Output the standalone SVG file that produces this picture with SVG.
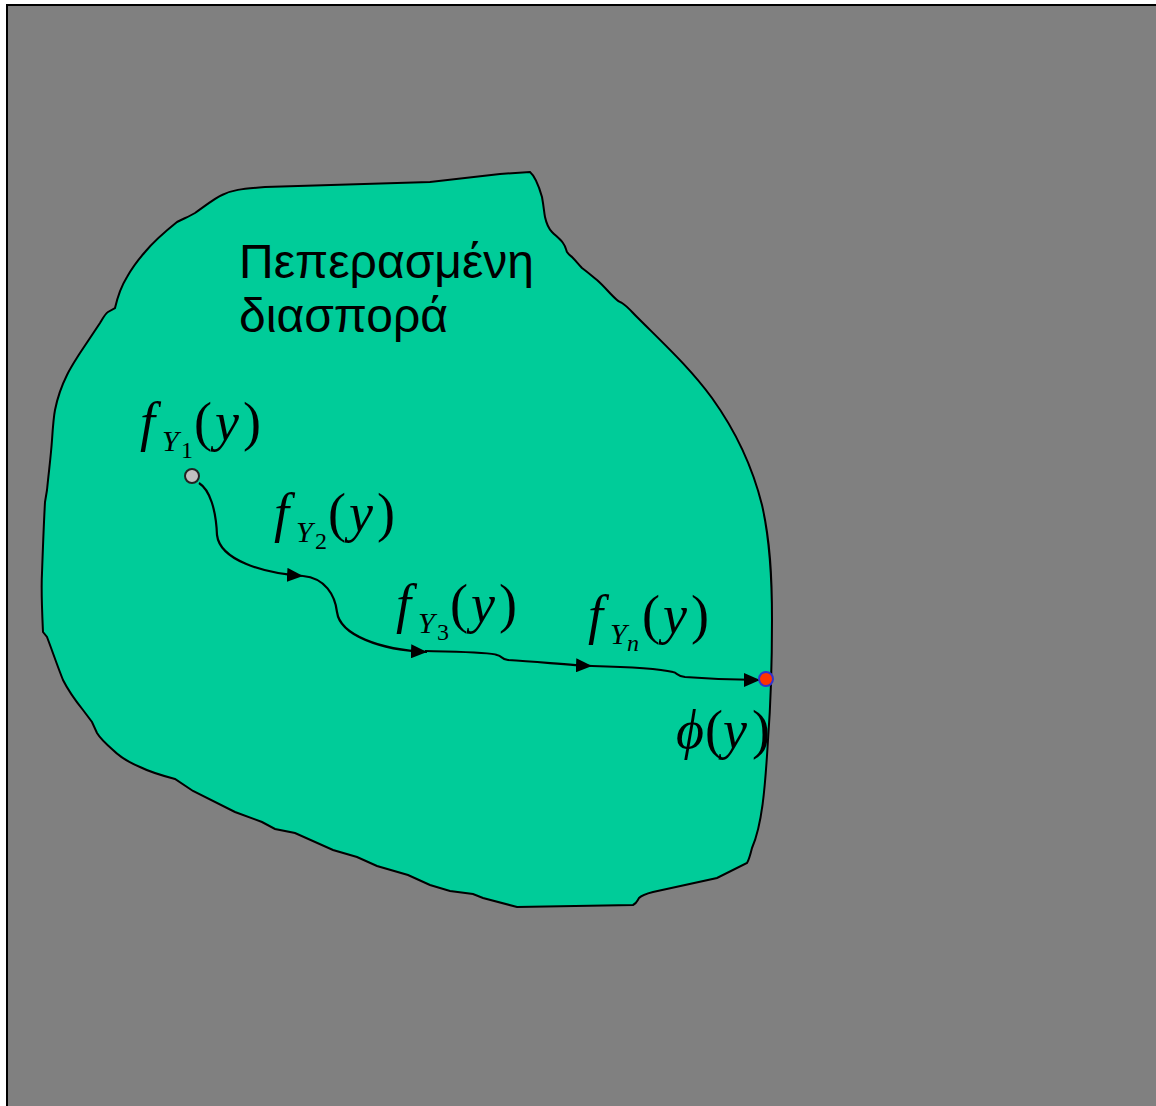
<svg xmlns="http://www.w3.org/2000/svg" width="1156" height="1106" viewBox="0 0 1156 1106">
<style>
.m{font-family:"Liberation Serif","Times New Roman",serif;fill:#000}
.i{font-style:italic}
.big{font-size:54px}
.sub{font-size:30px}
.num{font-size:24px}
.conn{fill:none;stroke:#000;stroke-width:2.2}
.gr{font-family:"Liberation Sans",Arial,sans-serif;font-size:48px;fill:#000}
</style>
<defs>
<marker id="arr" viewBox="0 0 16 14" refX="16" refY="7" markerWidth="16" markerHeight="14" markerUnits="userSpaceOnUse" orient="auto">
<path d="M0,0 L16,7 L0,14 Z" fill="#000"/>
</marker>
</defs>
<rect x="7" y="5" width="1200" height="1200" fill="#808080" stroke="#000" stroke-width="2"/>
<g id="region">
<path d="M530,172 C536,177 540,190 542,197 C544,208 544,212 545,217 C547,226 549,229 552,232 C556,236 560,239 563,243 C566,247 566,250 567,252 C569,255 571,256 572,257 C577,262 578,264 582,268 C590,274 592,276 597,280 C605,287 610,294 617,300 C619,302 621,302 622,303 C627,306 631,311 637,317 C665,345 690,368 712,398 C735,430 752,465 762,505 C770,540 772,575 772,620 C772,660 771,700 768,740 C765,790 762,825 752,848 C750,856 749,860 747,863 L717,878 L653,892 C645,894 641,896 639,898 C637,901 637,903 633,905 L517,907 L483,898 L473,894 L450,891 L430,885 L408,875 L377,866 L357,857 L333,850 L295,833 L275,829 L262,822 L235,812 L193,791 L175,779 C160,775 150,772 140,767 C128,762 120,757 113,750 C105,743 100,738 97,733 L92,722 L83,710 C75,700 68,690 63,680 C57,665 52,650 47,637 L43,632 C42,610 41,590 42,573 C43,545 44,520 45,502 L47,490 C49,470 51,455 52,440 C53,425 54,415 55,410 C58,395 62,385 67,375 C72,365 77,358 80,353 L100,323 C103,318 105,314 108,312 L115,308 C118,295 122,285 127,277 C132,268 138,260 145,252 C155,240 167,230 177,222 C185,218 190,216 195,213 C205,206 215,198 222,195 C232,190 240,189 265,187 L430,182 L500,174 Z" fill="#00CC99" stroke="#000" stroke-width="2"/>
</g>
<g id="title">
<text class="gr" x="239" y="278">Πεπερασμένη</text>
<text class="gr" x="239" y="332">διασπορά</text>
</g>
<g id="connectors">
<path class="conn" d="M199,483 C210,490 216,510 217,535 C220,560 262,573 303,576" marker-end="url(#arr)"/>
<path class="conn" d="M303,576 C325,578 335,595 337,612 C340,635 380,650 427,652" marker-end="url(#arr)"/>
<path class="conn" d="M425,651 C460,652 490,652 497,655 C503,656 500,659 508,660 C540,662 570,665 592,666" marker-end="url(#arr)"/>
<path class="conn" d="M592,666 C630,667 660,669 673,672 C678,673 676,676 685,677 C710,679 735,680 760,680" marker-end="url(#arr)"/>
</g>
<g id="start">
<circle cx="192" cy="476" r="7" fill="#C0C0C0" stroke="#222" stroke-width="2"/>
</g>
<g id="end">
<circle cx="766" cy="679" r="7" fill="#FF3300" stroke="#3333CC" stroke-width="2"/>
</g>
<g id="label-fY1">
<text class="m"><tspan class="big i" x="140" y="440">f</tspan><tspan class="sub i" x="162" y="451">Y</tspan><tspan class="num" x="181" y="458">1</tspan><tspan class="big" x="194" y="440">(</tspan><tspan class="big i" x="215" y="440">y</tspan><tspan class="big" x="243" y="440">)</tspan></text>
</g>
<g id="label-fY2" transform="translate(134,91)">
<text class="m"><tspan class="big i" x="140" y="440">f</tspan><tspan class="sub i" x="162" y="451">Y</tspan><tspan class="num" x="181" y="458">2</tspan><tspan class="big" x="194" y="440">(</tspan><tspan class="big i" x="215" y="440">y</tspan><tspan class="big" x="243" y="440">)</tspan></text>
</g>
<g id="label-fY3" transform="translate(256,182)">
<text class="m"><tspan class="big i" x="140" y="440">f</tspan><tspan class="sub i" x="162" y="451">Y</tspan><tspan class="num" x="181" y="458">3</tspan><tspan class="big" x="194" y="440">(</tspan><tspan class="big i" x="215" y="440">y</tspan><tspan class="big" x="243" y="440">)</tspan></text>
</g>
<g id="label-fYn" transform="translate(448,193)">
<text class="m"><tspan class="big i" x="140" y="440">f</tspan><tspan class="sub i" x="162" y="451">Y</tspan><tspan class="num i" x="179" y="458">n</tspan><tspan class="big" x="194" y="440">(</tspan><tspan class="big i" x="215" y="440">y</tspan><tspan class="big" x="243" y="440">)</tspan></text>
</g>
<g id="label-phi">
<text class="m"><tspan class="big i" x="676" y="748">ϕ</tspan><tspan class="big" x="705" y="748">(</tspan><tspan class="big i" x="723" y="748">y</tspan><tspan class="big" x="752" y="748">)</tspan></text>
</g>
</svg>
